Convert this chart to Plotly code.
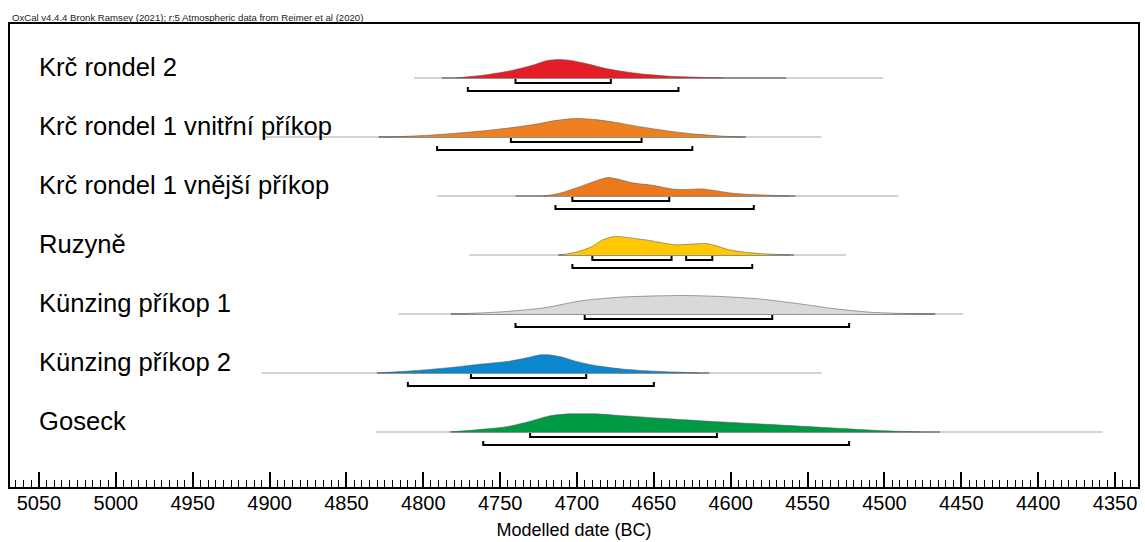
import plotly.graph_objects as go

# ---- data -----------------------------------------------------------------
labels = [
    "Krč rondel 2",
    "Krč rondel 1 vnitřní příkop",
    "Krč rondel 1 vnější příkop",
    "Ruzyně",
    "Künzing příkop 1",
    "Künzing příkop 2",
    "Goseck",
]

# Modelled probability densities: calendar years BC and relative probability
krc2_years = [4779, 4761.5, 4744, 4729, 4720, 4713, 4705, 4694, 4681, 4668, 4655, 4638, 4621, 4604.5]
krc2_prob = [0, 0.15, 0.38, 0.69, 0.93, 1.0, 0.96, 0.78, 0.51, 0.33, 0.2, 0.09, 0.04, 0]

krc1i_years = [4829, 4816, 4794, 4772, 4751, 4729, 4714, 4701, 4688, 4675, 4660, 4642, 4625, 4608, 4599, 4592]
krc1i_prob = [0, 0.02, 0.11, 0.25, 0.42, 0.66, 0.89, 1.0, 0.94, 0.79, 0.57, 0.34, 0.17, 0.06, 0.02, 0]

krc1v_years = [4722, 4720, 4712, 4701, 4690, 4680, 4673, 4664, 4651, 4638, 4629, 4619, 4610, 4599, 4586, 4569, 4562]
krc1v_prob = [0, 0.02, 0.13, 0.42, 0.75, 1.0, 0.9, 0.71, 0.58, 0.38, 0.35, 0.38, 0.29, 0.15, 0.08, 0.02, 0]

ruz_years = [4712, 4709.5, 4699, 4690, 4684, 4677, 4673, 4664, 4653, 4642, 4636, 4627, 4616, 4610, 4601, 4590.5, 4577.5, 4567, 4562]
ruz_prob = [0, 0.02, 0.19, 0.47, 0.79, 0.98, 1.0, 0.91, 0.79, 0.62, 0.55, 0.58, 0.62, 0.51, 0.28, 0.15, 0.06, 0.02, 0]

kun1_years = [4782, 4750, 4721, 4697, 4672, 4648, 4629, 4605, 4581, 4557, 4532, 4508, 4484, 4467]
kun1_prob = [0, 0.11, 0.34, 0.72, 0.91, 0.98, 1.0, 0.94, 0.81, 0.57, 0.28, 0.09, 0.02, 0]

kun2_years = [4830, 4826, 4805, 4783, 4761.5, 4744, 4731, 4724, 4718, 4709.5, 4701, 4688, 4671, 4653, 4632, 4621]
kun2_prob = [0, 0.02, 0.13, 0.29, 0.49, 0.64, 0.85, 0.98, 0.98, 0.85, 0.64, 0.4, 0.22, 0.11, 0.04, 0]

gos_years = [4783, 4764, 4746, 4731, 4718, 4705, 4688, 4675, 4645, 4612, 4580, 4547, 4515, 4493, 4476]
gos_prob = [0, 0.13, 0.28, 0.57, 0.87, 0.98, 0.98, 0.91, 0.74, 0.57, 0.43, 0.28, 0.13, 0.04, 0]

# Extent of the unmodelled (light) and modelled (dark) distributions
krc2_span, krc2_core = [4806, 4501], [4788, 4564]
krc1i_span, krc1i_core = [4903, 4541], [4829, 4590]
krc1v_span, krc1v_core = [4791, 4491], [4740, 4558]
ruz_span, ruz_core = [4770, 4525], [4712, 4559]
kun1_span, kun1_core = [4816, 4449], [4782, 4467]
kun2_span, kun2_core = [4905, 4541], [4830, 4614]
gos_span, gos_core = [4831, 4358], [4782, 4464]

# Highest posterior density ranges (68.3% and 95.4%)
krc2_68, krc2_95 = [(4740, 4678)], [(4771, 4634)]
krc1i_68, krc1i_95 = [(4743, 4658)], [(4791, 4625)]
krc1v_68, krc1v_95 = [(4703, 4640)], [(4714, 4585)]
ruz_68, ruz_95 = [(4690, 4638.5), (4629, 4612)], [(4703, 4586)]
kun1_68, kun1_95 = [(4695, 4573)], [(4740, 4523)]
kun2_68, kun2_95 = [(4769, 4694)], [(4810, 4650)]
gos_68, gos_95 = [(4730.5, 4609)], [(4761, 4523)]

# ---- drawing --------------------------------------------------------------
rows = [
    (krc2_years, krc2_prob, krc2_span, krc2_core, krc2_68, krc2_95, "#e31e26"),
    (krc1i_years, krc1i_prob, krc1i_span, krc1i_core, krc1i_68, krc1i_95, "#ef801f"),
    (krc1v_years, krc1v_prob, krc1v_span, krc1v_core, krc1v_68, krc1v_95, "#ec7a1c"),
    (ruz_years, ruz_prob, ruz_span, ruz_core, ruz_68, ruz_95, "#ffc800"),
    (kun1_years, kun1_prob, kun1_span, kun1_core, kun1_68, kun1_95, "#d9d9d9"),
    (kun2_years, kun2_prob, kun2_span, kun2_core, kun2_68, kun2_95, "#0a87cd"),
    (gos_years, gos_prob, gos_span, gos_core, gos_68, gos_95, "#009944"),
]

PX = 1 / 59.0          # one pixel in row units (rows are 59 px apart)
PEAK = 18.5 * PX       # height of a density peak
OFF68, OFF95 = 5 * PX, 13 * PX
HOOK = 4 * PX

fig = go.Figure()

for i, (yrs, prob, span, core, r68, r95, color) in enumerate(rows):
    base = -i
    fig.add_trace(go.Scatter(x=span, y=[base, base], mode="lines",
                             line=dict(color="#c4c4c4", width=1.5), hoverinfo="skip"))
    fig.add_trace(go.Scatter(x=core, y=[base, base], mode="lines",
                             line=dict(color="#7a7a7a", width=1.5), hoverinfo="skip"))
    fig.add_trace(go.Scatter(
        x=yrs, y=[base + p * PEAK for p in prob], mode="lines",
        fill="toself", fillcolor=color,
        line=dict(color="rgba(90,90,90,0.7)", width=0.8, shape="spline", smoothing=0.7),
        hoverinfo="skip"))
    for off, ranges in ((OFF68, r68), (OFF95, r95)):
        y0 = base - off
        for a, b in ranges:
            fig.add_trace(go.Scatter(
                x=[a, a, b, b], y=[y0 + HOOK, y0, y0, y0 + HOOK], mode="lines",
                line=dict(color="black", width=2), hoverinfo="skip"))
    fig.add_annotation(xref="paper", yref="y", x=27 / 1130, y=base, yshift=11,
                       xanchor="left", yanchor="middle", text=labels[i], showarrow=False,
                       font=dict(size=25.6, color="black", family="Arial, Liberation Sans"))

fig.add_annotation(xref="paper", yref="paper", x=0, y=1 + 7 / 463, xanchor="left",
                   yanchor="middle", showarrow=False,
                   text="OxCal v4.4.4 Bronk Ramsey (2021); r:5 Atmospheric data from Reimer et al (2020)",
                   font=dict(size=9.6, color="#222", family="Arial, Liberation Sans"))

fig.update_layout(
    width=1145, height=542,
    margin=dict(l=10, r=5, t=24, b=55),
    paper_bgcolor="white", plot_bgcolor="white",
    showlegend=False,
    font=dict(family="Arial, Liberation Sans", color="black"),
    xaxis=dict(
        range=[5068.8, 4335.1], tick0=5000, dtick=50,
        ticks="inside", ticklen=15, tickwidth=1.5, tickcolor="black",
        minor=dict(dtick=5, ticks="inside", ticklen=7, tickwidth=1, tickcolor="black"),
        showline=True, linewidth=2, linecolor="black", mirror=True,
        showgrid=False, zeroline=False,
        tickfont=dict(size=20), ticklabelstandoff=-3,
        title=dict(text="Modelled date (BC)", font=dict(size=18), standoff=10),
    ),
    yaxis=dict(
        range=[-6 - 55 * PX, 54 * PX],
        showline=True, linewidth=2, linecolor="black", mirror=True,
        showticklabels=False, ticks="", showgrid=False, zeroline=False,
    ),
)

fig.write_html("out.html")
